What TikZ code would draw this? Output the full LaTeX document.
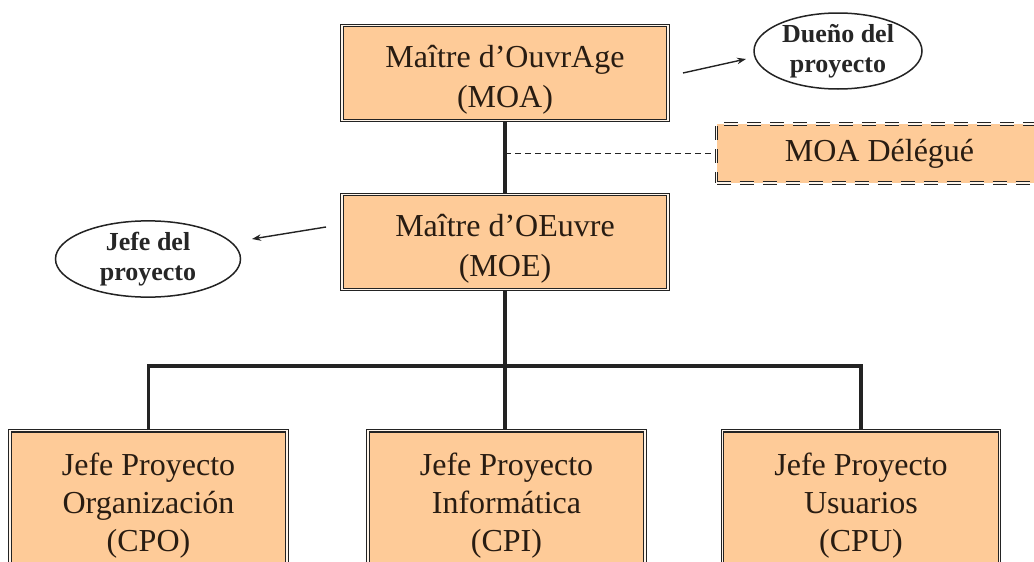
\documentclass[tikz,border=0pt]{standalone}
\usepackage{fontspec}
\setmainfont{Liberation Serif}
\usetikzlibrary{shapes.geometric,arrows.meta,calc}
\definecolor{peach}{RGB}{254,203,152}
\definecolor{ink}{RGB}{35,35,35}
\definecolor{txt}{RGB}{40,28,18}
% invisible struts that set the spacing above / below a box text
\newcommand{\topstrut}{\rule{0pt}{35pt}}
\newcommand{\botstrut}{\rule[-16pt]{0pt}{16pt}}
\begin{document}
\begin{tikzpicture}[x=1pt,y=-1pt,
  orgbox/.style={draw=ink, line width=1.2pt, double=white!80!peach, double distance=1.4pt,
    fill=peach, align=center, inner sep=0pt, text=txt},
  topbox/.style={orgbox, minimum width=326, minimum height=95,
    font=\fontsize{32}{40}\selectfont},
  leafbox/.style={orgbox, minimum width=277, minimum height=160, anchor=north,
    font=\fontsize{32}{38}\selectfont},
  delbox/.style={draw=ink, line width=1.1pt, dash pattern=on 14pt off 9pt,
    double=white!80!peach, double distance=1.4pt, fill=peach, text=txt,
    minimum width=326, minimum height=59, anchor=west, inner sep=0pt,
    font=\fontsize{32}{38}\selectfont},
  note/.style={ellipse, draw=ink, line width=1.5pt, inner sep=0pt, align=center,
    font=\fontsize{26}{30}\selectfont\bfseries, text=black!85},
  tree/.style={draw=ink, line width=3.2pt},
  link/.style={draw=ink, line width=1.5pt, dash pattern=on 6pt off 4pt},
  pointer/.style={draw=ink, line width=1.4pt, -{Stealth[length=9pt,width=6.5pt]}}
]
\clip (0,0) rectangle (1034,562);
\fill[white] (0,0) rectangle (1034,562);

% hierarchy boxes
\node[topbox] (moa) at (505,73) {\topstrut Maître d’OuvrAge\\(MOA)};
\node[topbox] (moe) at (505,242) {\topstrut Maître d’OEuvre\\(MOE)};
\node[delbox] (del) at (716,153.5) {MOA Délégué};

\node[leafbox] (cpo) at (148.5,430) {Jefe Proyecto\\Organización\\(CPO)\botstrut};
\node[leafbox] (cpi) at (506.5,430) {Jefe Proyecto\\Informática\\(CPI)\botstrut};
\node[leafbox] (cpu) at (861,430) {Jefe Proyecto\\Usuarios\\(CPU)\botstrut};

% role notes
\node[note, minimum width=168, minimum height=76] (owner) at (838,51) {Dueño del\\proyecto};
\node[note, minimum width=185, minimum height=76] (lead) at (148,259) {Jefe del\\proyecto};

% connectors
\path[tree] (moa.south) -- (moe.north);
\path[link] (moa.south |- del.west) -- (del.west);
\path[tree] (moe.south) -- (moe.south |- cpi.north);
\path[tree] (cpo.north) -- ++(0,-64) -| (cpu.north);

% pointers to the notes
\coordinate (p1s) at (683,73);
\coordinate (p1e) at (746,59);
\coordinate (p2s) at (326,227);
\coordinate (p2e) at (252,239);
\path[pointer] (p1s) -- (p1e);
\path[pointer] (p2s) -- (p2e);
\end{tikzpicture}
\end{document}
